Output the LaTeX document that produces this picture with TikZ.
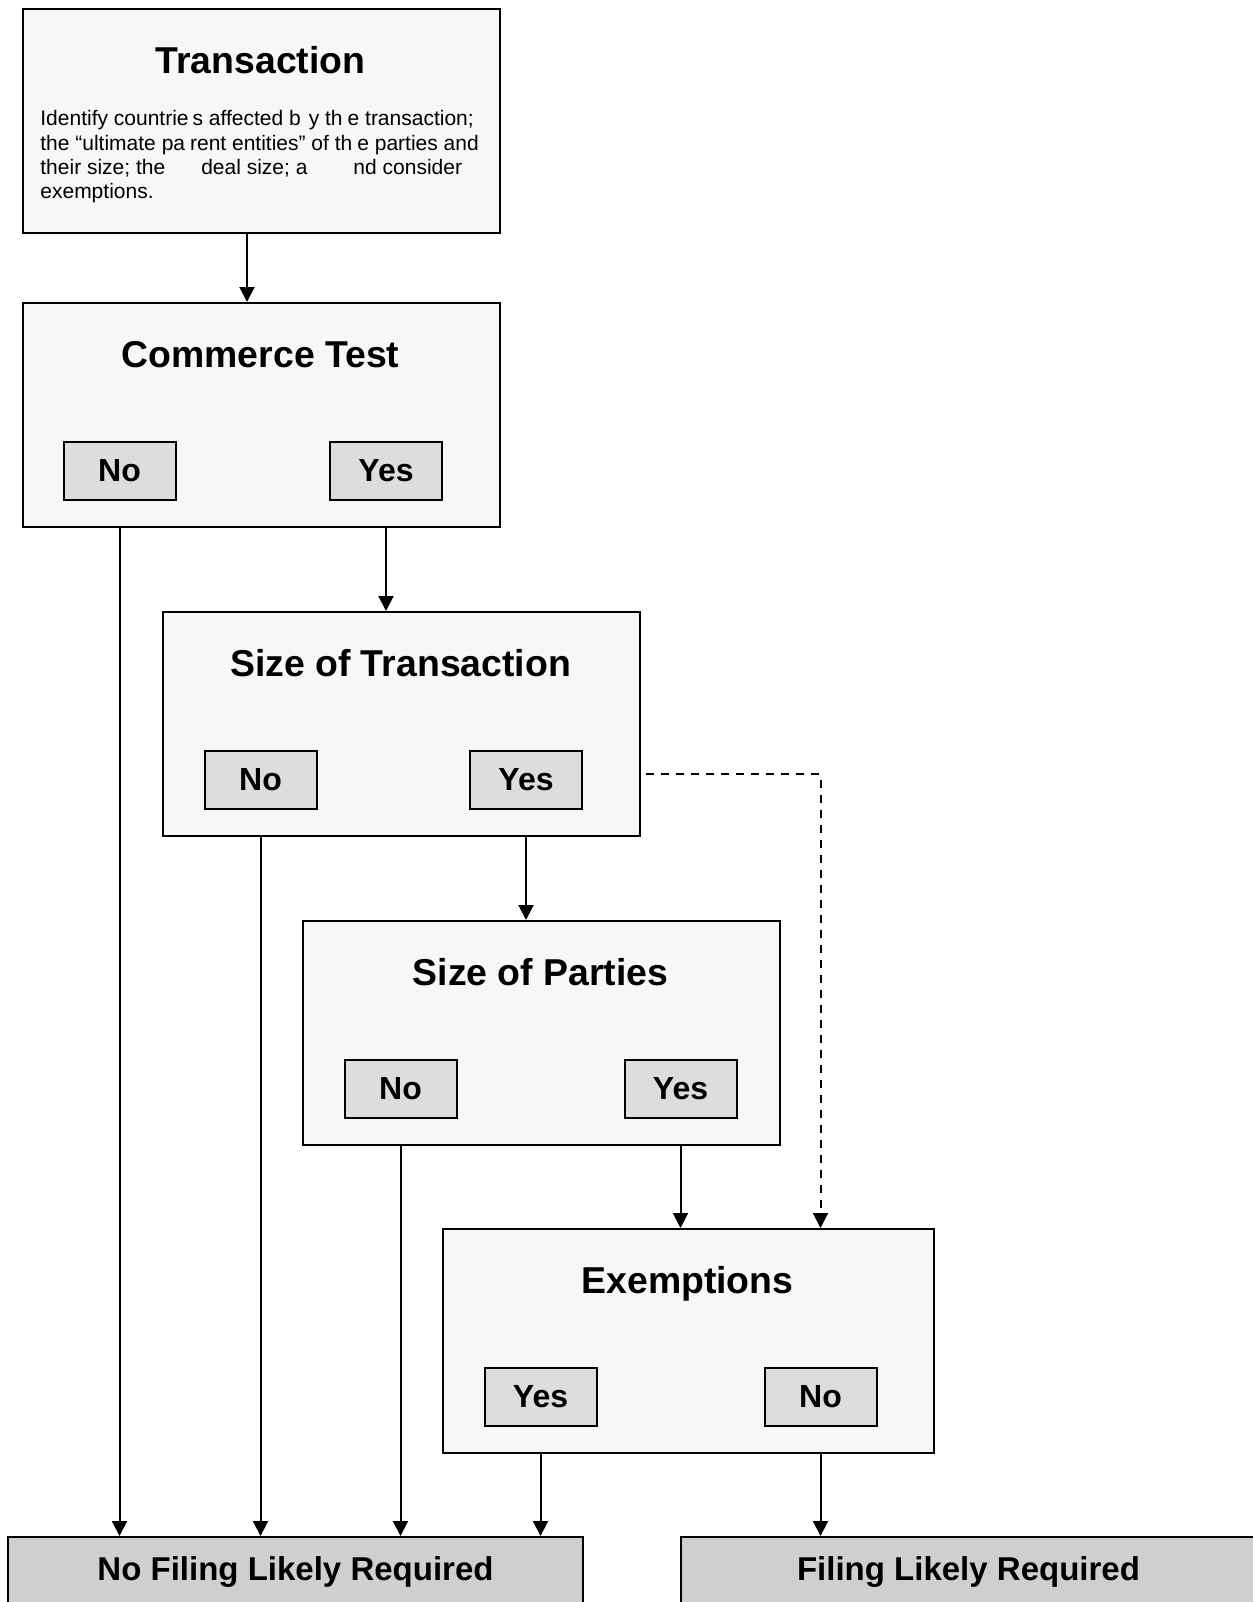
\documentclass[tikz,border=0pt]{standalone}
\usepackage{fontspec}
\setmainfont{Liberation Sans}
\usetikzlibrary{arrows.meta}

\definecolor{boxgray}{HTML}{F7F7F7}
\definecolor{btngray}{HTML}{DDDDDD}
\definecolor{resgray}{HTML}{CFCFCF}

\begin{document}
\begin{tikzpicture}
	[x=0.5pt,y=-0.5pt,
	stage/.style={rectangle,draw,line width=1pt,fill=boxgray,minimum width=238.5pt,minimum height=112pt,anchor=north west,inner sep=0pt},
	title/.style={anchor=base,inner sep=0pt,font=\fontsize{18.7}{22}\selectfont\bfseries},
	btn/.style={rectangle,draw,line width=1pt,fill=btngray,minimum width=56pt,minimum height=29pt,inner sep=0pt,font=\fontsize{16}{19}\selectfont\bfseries},
	result/.style={rectangle,draw,line width=1pt,fill=resgray,minimum width=287.5pt,text height=21.5pt,text depth=30pt,anchor=north,inner sep=0pt,font=\fontsize{16.5}{20}\selectfont\bfseries},
	edge/.style={line width=1pt,-{Triangle[length=7.5pt,width=7.5pt]}}]
	\useasboundingbox (0,0) rectangle (1253,1602);
	
	% stages
	\node[stage] (trans) at (22,8) {};
	\node[title] (transtitle) at (260.5,73) {Transaction};
	\node[anchor=north west,align=left,inner sep=0pt,font=\fontsize{10.5}{12.2}\selectfont] (transtext) at (40,110)
	{Identify countrie\kern2pt s affected b\kern4pt y th\kern2.5pt e transaction;\\
	the “ultimate pa\kern2.5pt rent entities” of th\kern2.5pt e parties and\\
	their size; the\hspace{18pt}deal size; a\hspace{23pt}nd consider\\
	exemptions.};
	
	\node[stage] (comm) at (22,302) {};
	\node[title] (commtitle) at (260.5,367) {Commerce Test};
	\node[btn] (commno) at (119.5,471) {No};
	\node[btn] (commyes) at (386,471) {Yes};
	
	\node[stage] (sot) at (162,611) {};
	\node[title] (sottitle) at (400.5,676) {Size of Transaction};
	\node[btn] (sotno) at (260.5,780) {No};
	\node[btn] (sotyes) at (526,780) {Yes};
	
	\node[stage] (sop) at (302,920) {};
	\node[title] (soptitle) at (540.5,985) {Size of Parties};
	\node[btn] (sopno) at (400.5,1089) {No};
	\node[btn] (sopyes) at (680.5,1089) {Yes};
	
	\node[stage,minimum width=245.5pt] (ex) at (442,1228) {};
	\node[title] (extitle) at (687.5,1293) {Exemptions};
	\node[btn] (exyes) at (540.5,1397) {Yes};
	\node[btn] (exno) at (820.5,1397) {No};
	
	% outcomes
	\node[result] (nofile) at (295.5,1536) {No Filing Likely Required};
	\node[result] (file) at (968.5,1536) {Filing Likely Required};
	
	% connectors
	\draw[edge] ([xshift=-7.25pt]trans.south) -- ([xshift=-7.25pt]comm.north);
	\foreach \btnode/\from/\to in {commyes/comm/sot,sotyes/sot/sop,sopyes/sop/ex,commno/comm/nofile,sotno/sot/nofile,sopno/sop/nofile,exyes/ex/nofile,exno/ex/file}
	\draw[edge] (\btnode |- \from.south) -- (\btnode |- \to.north);
	
	\coordinate (dashstart) at (646,774);
	\draw[edge,dash pattern=on 4pt off 3.5pt] (dashstart) -| (exno |- ex.north);
\end{tikzpicture}
\end{document}
